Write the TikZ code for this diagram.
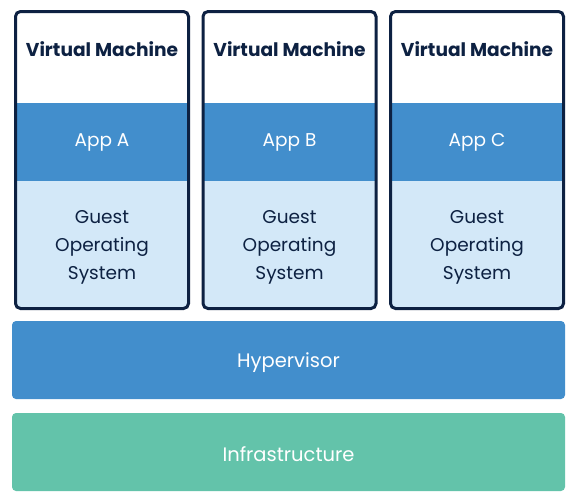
\documentclass[tikz,border=0pt]{standalone}
\usepackage{fontspec}
\setmainfont{Poppins}
\definecolor{navy}{HTML}{0D2142}
\definecolor{appblue}{HTML}{428ECC}
\definecolor{guestblue}{HTML}{D3E8F8}
\definecolor{infragreen}{HTML}{63C3AA}
\tikzset{
  vmtitle/.style={font=\fontsize{18.6}{22}\selectfont\bfseries, text=navy},
  apptext/.style={font=\fontsize{18.5}{22}\selectfont, text=white},
  guesttext/.style={font=\fontsize{18.5}{28}\selectfont, text=navy, align=center},
  bartext/.style={font=\fontsize{19.5}{23}\selectfont, text=white},
  bar/.style={rounded corners=4pt, draw=none},
}
\begin{document}
\begin{tikzpicture}[x=1pt,y=-1pt]
\useasboundingbox (0,0) rectangle (578,501);
\foreach \L/\n/\app in {14/1/A,201.5/2/B,389/3/C}{
  \begin{scope}
    \clip[rounded corners=5pt] (\L+1.5,11.5) rectangle (\L+174.5,308.5);
    \fill[guestblue] (\L,10) rectangle (\L+176,310);
    \fill[white] (\L,10) rectangle (\L+176,103);
    \fill[appblue] (\L,103) rectangle (\L+176,181);
  \end{scope}
  \node[draw=navy, line width=3pt, rounded corners=5pt, minimum width=173pt, minimum height=297pt, inner sep=0pt] (vm\n) at (\L+88,160) {};
  \node[vmtitle] (title\n) at (\L+88,49.5) {Virtual Machine};
  \node[apptext] (app\n) at (\L+88,142.5) {App \app};
  \node[guesttext] (guest\n) at (\L+88,247.5) {Guest\\Operating\\System};
}
\fill[appblue, bar] (12,321) rectangle (565,399);
\node[bartext] (hyper) at (288.5,362.5) {Hypervisor};
\fill[infragreen, bar] (12,413) rectangle (565,491);
\node[bartext] (infra) at (288.5,454.5) {Infrastructure};
\end{tikzpicture}
\end{document}
